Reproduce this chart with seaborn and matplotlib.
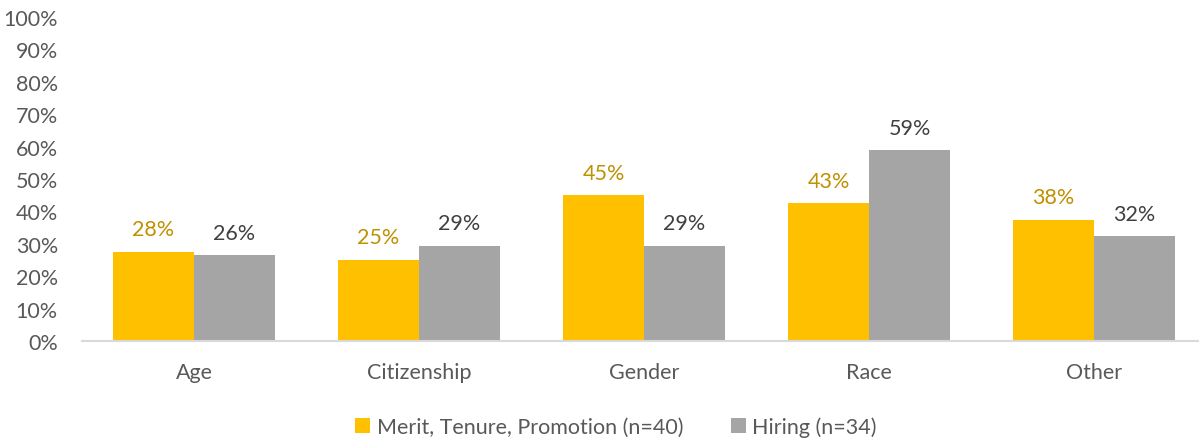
import math
import matplotlib
matplotlib.use("Agg")
import matplotlib.pyplot as plt
import seaborn as sns
import pandas as pd
from matplotlib.ticker import PercentFormatter

categories = ["Age", "Citizenship", "Gender", "Race", "Other"]
merit = [0.275, 0.25, 0.45, 0.425, 0.375]
hiring = [0.2647, 0.2941, 0.2941, 0.5882, 0.3235]
series_names = ["Merit, Tenure, Promotion (n=40)", "Hiring (n=34)"]
colors = ["#FFC000", "#A5A5A5"]
label_colors = ["#BF9000", "#404040"]

sns.set_theme(style="white")
plt.rcParams['font.family'] = ['Lato', 'DejaVu Sans']

df = pd.DataFrame({
    "Category": categories * 2,
    "Value": merit + hiring,
    "Series": [series_names[0]] * len(categories) + [series_names[1]] * len(categories),
})

fig = plt.figure(figsize=(11.99, 4.39), dpi=100)
ax = fig.add_axes([81.5 / 1199, 97 / 439, 1125 / 1199, 324 / 439])

sns.barplot(data=df, x="Category", y="Value", hue="Series", order=categories,
            hue_order=series_names, palette=colors, width=0.72, gap=0,
            saturation=1, errorbar=None, ax=ax, legend=True, linewidth=0)

for cont, lc in zip(ax.containers, label_colors):
    ax.bar_label(cont, labels=[f"{math.floor(v * 100 + 0.5)}%" for v in cont.datavalues],
                 padding=9, color=lc, fontsize=15.5)

ax.set_ylim(0, 1)
ax.set_yticks([i / 10 for i in range(11)])
ax.yaxis.set_major_formatter(PercentFormatter(1.0, decimals=0))
ax.set_xlim(-0.5, len(categories) - 0.5)
ax.set_xlabel("")
ax.set_ylabel("")
ax.tick_params(axis="both", labelsize=15.5, colors="#595959", length=0)
ax.tick_params(axis="y", pad=17)
ax.tick_params(axis="x", pad=15)
for s in ["top", "right", "left"]:
    ax.spines[s].set_visible(False)
ax.spines["bottom"].set_color("#D9D9D9")
ax.spines["bottom"].set_linewidth(1.5)

ax.legend(loc="lower center", bbox_to_anchor=(534.5 / 1125, -0.355),
          ncol=2, frameon=False, fontsize=15.5, handlelength=0.7, handleheight=0.7,
          handletextpad=0.3, columnspacing=2.2, labelcolor="#595959")

fig.savefig("out.png", dpi=100)
